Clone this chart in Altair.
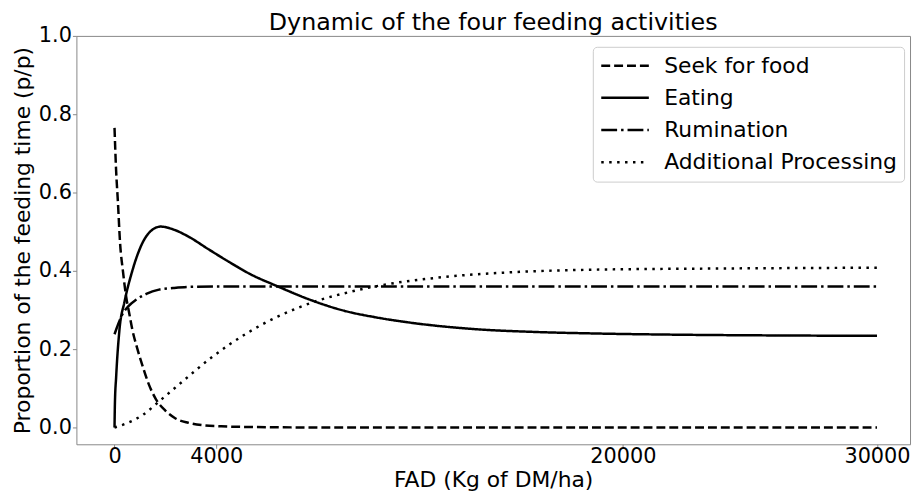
import altair as alt
import pandas as pd

# ---- data ----
series_names = ["Seek for food", "Eating", "Rumination", "Additional Processing"]

seek_x = [0, 60, 130, 220, 330, 455, 584, 700, 880, 1090, 1350, 1620, 2000, 2400, 2900, 3430, 4200, 5500, 8000, 12000, 20000, 30000]
seek_y = [0.765, 0.66, 0.58, 0.47, 0.40, 0.335, 0.29, 0.25, 0.205, 0.16, 0.11, 0.073, 0.043, 0.023, 0.012, 0.006, 0.003, 0.001, 0.0, 0.0, 0.0, 0.0]

eat_x = [0, 15, 65, 195, 390, 700, 1090, 1450, 1820, 2300, 2920, 3700, 4500, 5300, 6430, 7700, 9040, 10300, 11600, 14200, 16500, 18900, 22000, 26000, 30000]
eat_y = [0.0, 0.06, 0.13, 0.25, 0.32, 0.40, 0.47, 0.503, 0.513, 0.506, 0.487, 0.455, 0.423, 0.393, 0.36, 0.326, 0.298, 0.281, 0.268, 0.251, 0.244, 0.24, 0.237, 0.235, 0.234]

rum_x = [0, 150, 310, 550, 845, 1250, 1750, 2300, 2920, 4000, 6000, 10000, 20000, 30000]
rum_y = [0.238, 0.265, 0.289, 0.31, 0.326, 0.341, 0.352, 0.356, 0.359, 0.36, 0.36, 0.36, 0.36, 0.36]

add_x = [0, 455, 1090, 1870, 2650, 3800, 5245, 6416, 7196, 8000, 9000, 10320, 12930, 15500, 18900, 24000, 30000]
add_y = [0.0, 0.01, 0.031, 0.073, 0.116, 0.178, 0.242, 0.283, 0.305, 0.324, 0.342, 0.361, 0.384, 0.396, 0.403, 0.406, 0.408]

x_ticks = [0, 4000, 20000, 30000]
y_ticks = [0.0, 0.2, 0.4, 0.6, 0.8, 1.0]

# ---- build table ----
rows = []
for name, xs, ys in zip(series_names, [seek_x, eat_x, rum_x, add_x], [seek_y, eat_y, rum_y, add_y]):
    for xv, yv in zip(xs, ys):
        rows.append({"series": name, "fad": xv, "prop": yv})
df = pd.DataFrame(rows)

dash_styles = [[9, 4], [1, 0], [16, 4, 2.5, 4], [2.5, 5.5]]
FONT = "DejaVu Sans"

chart = (
    alt.Chart(df)
    .mark_line(strokeWidth=2.5, color="black", interpolate="monotone", strokeCap="butt")
    .encode(
        x=alt.X(
            "fad:Q",
            scale=alt.Scale(domain=[-1500, 31300], nice=False, zero=False),
            axis=alt.Axis(values=x_ticks, format="d", title="FAD (Kg of DM/ha)",
                          grid=False, labelFlush=False, labelPadding=-3, titlePadding=4),
        ),
        y=alt.Y(
            "prop:Q",
            scale=alt.Scale(domain=[-0.043, 1.0], nice=False, zero=False),
            axis=alt.Axis(values=y_ticks, format=".1f",
                          title="Proportion of the feeding time (p/p)",
                          grid=False, labelPadding=1, titlePadding=4),
        ),
        strokeDash=alt.StrokeDash(
            "series:N",
            scale=alt.Scale(domain=series_names, range=dash_styles),
            legend=alt.Legend(
                title=None, orient="none", legendX=521, legendY=11,
                symbolType="stroke", symbolSize=2304, symbolStrokeWidth=2.5,
                symbolStrokeColor="black", labelFontSize=22, labelFont=FONT,
                labelColor="black", labelOffset=14, padding=7,
                strokeColor="#cccccc", cornerRadius=4, fillColor="white",
                clipHeight=24, rowPadding=8.5, labelLimit=400,
            ),
        ),
    )
    .properties(
        width=841,
        height=412,
        title=alt.TitleParams(
            "Dynamic of the four feeding activities", fontSize=24, font=FONT,
            fontWeight="normal", color="black", anchor="middle", frame="group",
            baseline="alphabetic", offset=-29,
        ),
        autosize=alt.AutoSizeParams(type="none"),
        padding={"left": 69, "top": 26, "right": 3, "bottom": 48},
    )
    .configure(font=FONT)
    .configure_view(stroke="#888888", strokeWidth=1)
    .configure_axis(
        domain=False, tickColor="#888888", tickSize=4, labelFontSize=21,
        titleFontSize=22, labelColor="black", titleColor="black",
        labelFont=FONT, titleFont=FONT, titleFontWeight="normal",
    )
)

chart.save("out.html", embed_options={"renderer": "svg", "actions": False})
